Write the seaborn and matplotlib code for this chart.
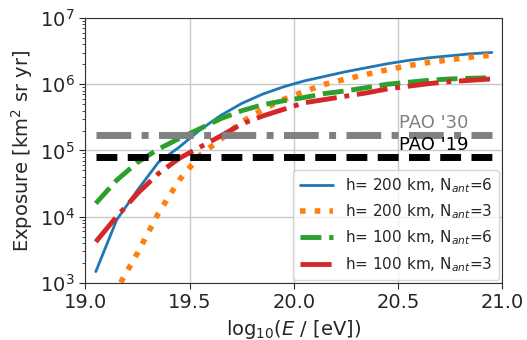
import numpy as np
import pandas as pd
import matplotlib
matplotlib.use("Agg")
import matplotlib.pyplot as plt
import seaborn as sns

log_energy = [19.05, 19.15, 19.25, 19.35, 19.45, 19.55, 19.65, 19.75, 19.85, 19.95,
              20.05, 20.15, 20.25, 20.35, 20.45, 20.55, 20.65, 20.75, 20.85, 20.95]
log_exp_h200_n6 = [3.17, 3.95, 4.40, 4.82, 5.05, 5.31, 5.53, 5.71, 5.85, 5.96,
                   6.05, 6.12, 6.19, 6.25, 6.31, 6.36, 6.40, 6.43, 6.46, 6.48]
log_exp_h200_n3 = [2.20, 2.90, 3.45, 4.05, 4.55, 4.93, 5.17, 5.43, 5.62, 5.77,
                   5.89, 6.00, 6.08, 6.15, 6.22, 6.28, 6.33, 6.37, 6.41, 6.44]
log_exp_h100_n6 = [4.20, 4.55, 4.82, 5.02, 5.18, 5.33, 5.48, 5.60, 5.69, 5.75,
                   5.80, 5.86, 5.90, 5.95, 6.00, 6.03, 6.06, 6.08, 6.09, 6.10]
log_exp_h100_n3 = [3.62, 4.00, 4.35, 4.65, 4.88, 5.05, 5.22, 5.40, 5.52, 5.62,
                   5.72, 5.77, 5.82, 5.87, 5.93, 5.97, 6.01, 6.04, 6.06, 6.08]
series_labels = ["h= 200 km, N$_{ant}$=6", "h= 200 km, N$_{ant}$=3",
                 "h= 100 km, N$_{ant}$=6", "h= 100 km, N$_{ant}$=3"]
pao_labels = ["PAO '30", "PAO '19"]
pao_values = [1.7e5, 7.9e4]
pao_span = [19.05, 20.95]

sns.set_style("white")
plt.rcParams['font.family'] = ['DejaVu Sans']

fig, ax = plt.subplots(figsize=(5.27, 3.4), dpi=100)

colors = ["#1f77b4", "#ff7f0e", "#2ca02c", "#d62728"]
styles = ["-", ":", (0, (4.3, 1.6)), "-."]
widths = [2, 4, 3.5, 3.5]
data = [log_exp_h200_n6, log_exp_h200_n3, log_exp_h100_n6, log_exp_h100_n3]
for lab, vals, c, ls, lw in zip(series_labels, data, colors, styles, widths):
    df = pd.DataFrame({"x": log_energy, "y": 10 ** np.array(vals)})
    sns.lineplot(data=df, x="x", y="y", ax=ax, color=c, lw=lw, label=lab)
    ax.lines[-1].set_linestyle(ls)

# PAO reference lines
df30 = pd.DataFrame({"x": pao_span, "y": [pao_values[0]] * 2})
sns.lineplot(data=df30, x="x", y="y", ax=ax, color="gray", lw=5, legend=False)
ax.lines[-1].set_linestyle((0, (5, 1.5, 1, 1.5)))
df19 = pd.DataFrame({"x": pao_span, "y": [pao_values[1]] * 2})
sns.lineplot(data=df19, x="x", y="y", ax=ax, color="black", lw=5, legend=False)
ax.lines[-1].set_linestyle((0, (3, 1.5)))

ax.text(20.505, 1.93e5, pao_labels[0], color="gray", fontsize=13, ha="left", va="bottom")
ax.text(20.505, 8.7e4, pao_labels[1], color="black", fontsize=13, ha="left", va="bottom")

ax.set_yscale("log")
ax.set_xlim(19.0, 21.0)
ax.set_ylim(1e3, 1e7)
ax.set_xticks([19.0, 19.5, 20.0, 20.5, 21.0])
ax.set_xticklabels(["19.0", "19.5", "20.0", "20.5", "21.0"])
ax.grid(True, which="major", color="#c8c8c8", lw=1)
ax.tick_params(axis="both", which="major", labelsize=14, length=4, direction="out",
               left=True, bottom=True)
ax.tick_params(axis="y", which="minor", length=2, left=True)
ax.set_xlabel("log$_{10}$($E$ / [eV])", fontsize=14)
ax.set_ylabel("Exposure [km$^2$ sr yr]", fontsize=14)
for s in ax.spines.values():
    s.set_color("#333333")

leg = ax.legend(loc="lower right", fontsize=11, frameon=True, handlelength=2.2,
                borderaxespad=0.2)

fig.subplots_adjust(left=0.162, right=0.953, top=0.947, bottom=0.168)
fig.savefig("out.png", dpi=100)
